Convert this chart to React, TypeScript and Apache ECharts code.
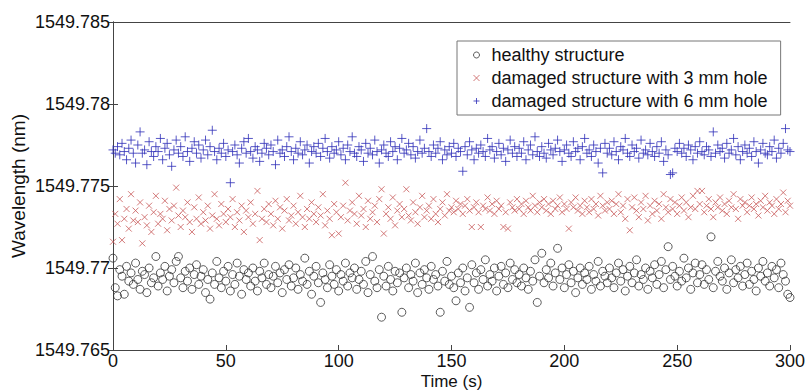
import React, { useEffect, useRef } from "react";
import * as echarts from "echarts";

// Time samples (s), one reading per second from 0 to 300
const timeStart = 0;
const timeStep = 1;

const healthy = [
1549.7706,1549.7688,1549.7683,1549.7699,1549.7695,1549.7684,1549.7701,1549.7692,1549.7697,1549.7690,
1549.7703,1549.7693,1549.7687,1549.7698,1549.7696,1549.7685,1549.7700,1549.7691,1549.7694,1549.7707,
1549.7689,1549.7697,1549.7693,1549.7701,1549.7686,1549.7695,1549.7699,1549.7691,1549.7704,1549.7707,
1549.7694,1549.7688,1549.7698,1549.7692,1549.7700,1549.7687,1549.7696,1549.7702,1549.7690,1549.7695,
1549.7699,1549.7685,1549.7693,1549.7681,1549.7697,1549.7690,1549.7704,1549.7694,1549.7688,1549.7698,
1549.7692,1549.7701,1549.7686,1549.7696,1549.7690,1549.7703,1549.7695,1549.7684,1549.7699,1549.7693,
1549.7697,1549.7689,1549.7700,1549.7692,1549.7686,1549.7698,1549.7694,1549.7703,1549.7690,1549.7696,
1549.7688,1549.7695,1549.7701,1549.7691,1549.7697,1549.7685,1549.7699,1549.7693,1549.7702,1549.7689,
1549.7694,1549.7700,1549.7687,1549.7696,1549.7692,1549.7706,1549.7690,1549.7698,1549.7684,1549.7695,
1549.7701,1549.7691,1549.7679,1549.7697,1549.7693,1549.7688,1549.7702,1549.7695,1549.7690,1549.7699,
1549.7686,1549.7696,1549.7692,1549.7703,1549.7689,1549.7697,1549.7694,1549.7700,1549.7687,1549.7693,
1549.7698,1549.7690,1549.7704,1549.7685,1549.7696,1549.7707,1549.7692,1549.7688,1549.7699,1549.7670,
1549.7695,1549.7689,1549.7701,1549.7693,1549.7686,1549.7698,1549.7691,1549.7697,1549.7673,1549.7694,
1549.7700,1549.7688,1549.7696,1549.7692,1549.7703,1549.7685,1549.7697,1549.7690,1549.7699,1549.7694,
1549.7687,1549.7701,1549.7693,1549.7696,1549.7689,1549.7673,1549.7698,1549.7692,1549.7704,1549.7690,
1549.7695,1549.7688,1549.7680,1549.7697,1549.7691,1549.7700,1549.7686,1549.7694,1549.7676,1549.7702,
1549.7691,1549.7697,1549.7687,1549.7699,1549.7693,1549.7705,1549.7689,1549.7696,1549.7692,1549.7700,
1549.7686,1549.7695,1549.7701,1549.7690,1549.7697,1549.7688,1549.7703,1549.7693,1549.7699,1549.7691,
1549.7696,1549.7689,1549.7700,1549.7694,1549.7687,1549.7698,1549.7692,1549.7705,1549.7679,1549.7695,
1549.7709,1549.7691,1549.7699,1549.7694,1549.7703,1549.7689,1549.7697,1549.7712,1549.7693,1549.7700,
1549.7688,1549.7696,1549.7702,1549.7691,1549.7698,1549.7685,1549.7694,1549.7700,1549.7690,1549.7697,
1549.7693,1549.7701,1549.7687,1549.7696,1549.7692,1549.7704,1549.7689,1549.7698,1549.7695,1549.7691,
1549.7700,1549.7694,1549.7688,1549.7697,1549.7703,1549.7692,1549.7699,1549.7686,1549.7695,1549.7701,
1549.7691,1549.7697,1549.7705,1549.7689,1549.7696,1549.7693,1549.7700,1549.7687,1549.7698,1549.7694,
1549.7702,1549.7690,1549.7696,1549.7704,1549.7688,1549.7699,1549.7713,1549.7693,1549.7701,1549.7695,
1549.7689,1549.7698,1549.7692,1549.7706,1549.7694,1549.7700,1549.7687,1549.7697,1549.7703,1549.7691,
1549.7696,1549.7702,1549.7690,1549.7699,1549.7693,1549.7719,1549.7688,1549.7698,1549.7704,1549.7695,
1549.7692,1549.7700,1549.7687,1549.7697,1549.7705,1549.7691,1549.7699,1549.7694,1549.7701,1549.7689,
1549.7696,1549.7703,1549.7690,1549.7698,1549.7693,1549.7686,1549.7700,1549.7695,1549.7704,1549.7692,
1549.7697,1549.7689,1549.7701,1549.7694,1549.7699,1549.7688,1549.7703,1549.7696,1549.7692,1549.7684,
1549.7682
];

const hole3mm = [
1549.7716,1549.7733,1549.7727,1549.7742,1549.7717,1549.7730,1549.7736,1549.7724,1549.7745,1549.7729,
1549.7735,1549.7728,1549.7740,1549.7715,1549.7731,1549.7726,1549.7738,1549.7722,1549.7734,1549.7744,
1549.7727,1549.7733,1549.7730,1549.7741,1549.7723,1549.7736,1549.7729,1549.7738,1549.7749,1549.7732,
1549.7725,1549.7735,1549.7731,1549.7740,1549.7728,1549.7722,1549.7737,1549.7730,1549.7743,1549.7727,
1549.7734,1549.7729,1549.7738,1549.7724,1549.7732,1549.7745,1549.7730,1549.7726,1549.7739,1549.7733,
1549.7728,1549.7736,1549.7731,1549.7742,1549.7725,1549.7734,1549.7729,1549.7738,1549.7722,1549.7735,
1549.7731,1549.7740,1549.7727,1549.7733,1549.7747,1549.7717,1549.7730,1549.7736,1549.7728,1549.7739,
1549.7733,1549.7726,1549.7741,1549.7730,1549.7737,1549.7724,1549.7735,1549.7742,1549.7729,1549.7732,
1549.7738,1549.7727,1549.7734,1549.7744,1549.7731,1549.7725,1549.7736,1549.7730,1549.7740,1549.7733,
1549.7728,1549.7737,1549.7732,1549.7745,1549.7726,1549.7735,1549.7730,1549.7720,1549.7739,1549.7734,
1549.7721,1549.7731,1549.7738,1549.7752,1549.7729,1549.7735,1549.7740,1549.7733,1549.7727,1549.7744,
1549.7732,1549.7736,1549.7725,1549.7741,1549.7730,1549.7734,1549.7738,1549.7728,1549.7742,1549.7748,
1549.7721,1549.7733,1549.7737,1549.7730,1549.7743,1549.7726,1549.7735,1549.7739,1549.7731,1549.7736,
1549.7748,1549.7732,1549.7729,1549.7740,1549.7734,1549.7727,1549.7737,1549.7744,1549.7731,1549.7735,
1549.7738,1549.7730,1549.7742,1549.7733,1549.7728,1549.7736,1549.7740,1549.7732,1549.7745,1549.7735,
1549.7737,1549.7734,1549.7741,1549.7736,1549.7739,1549.7733,1549.7738,1549.7742,1549.7735,1549.7725,
1549.7737,1549.7740,1549.7734,1549.7725,1549.7738,1549.7736,1549.7743,1549.7735,1549.7739,1549.7733,
1549.7741,1549.7736,1549.7738,1549.7725,1549.7734,1549.7724,1549.7740,1549.7737,1549.7735,1549.7742,
1549.7736,1549.7739,1549.7733,1549.7741,1549.7737,1549.7735,1549.7744,1549.7738,1549.7734,1549.7740,
1549.7737,1549.7742,1549.7735,1549.7739,1549.7733,1549.7741,1549.7736,1549.7738,1549.7743,1549.7734,
1549.7739,1549.7736,1549.7724,1549.7740,1549.7737,1549.7743,1549.7735,1549.7738,1549.7733,1549.7741,
1549.7737,1549.7734,1549.7742,1549.7736,1549.7739,1549.7732,1549.7744,1549.7738,1549.7735,1549.7740,
1549.7736,1549.7741,1549.7733,1549.7739,1549.7745,1549.7734,1549.7738,1549.7730,1549.7742,1549.7723,
1549.7737,1549.7743,1549.7735,1549.7731,1549.7740,1549.7736,1549.7744,1549.7729,1549.7738,1549.7733,
1549.7741,1549.7735,1549.7739,1549.7730,1549.7745,1549.7737,1549.7734,1549.7742,1549.7736,1549.7740,
1549.7733,1549.7738,1549.7743,1549.7735,1549.7740,1549.7731,1549.7737,1549.7744,1549.7736,1549.7747,
1549.7739,1549.7747,1549.7734,1549.7738,1549.7742,1549.7736,1549.7731,1549.7740,1549.7737,1549.7743,
1549.7735,1549.7739,1549.7733,1549.7741,1549.7737,1549.7745,1549.7736,1549.7730,1549.7742,1549.7738,
1549.7740,1549.7734,1549.7738,1549.7743,1549.7736,1549.7739,1549.7732,1549.7741,1549.7737,1549.7744,
1549.7735,1549.7740,1549.7738,1549.7733,1549.7742,1549.7736,1549.7739,1549.7746,1549.7734,1549.7741,
1549.7738
];

const hole6mm = [
1549.7772,1549.7770,1549.7774,1549.7769,1549.7776,1549.7771,1549.7766,1549.7773,1549.7778,1549.7770,
1549.7764,1549.7775,1549.7783,1549.7770,1549.7772,1549.7763,1549.7777,1549.7771,1549.7768,1549.7774,
1549.7771,1549.7779,1549.7766,1549.7773,1549.7776,1549.7769,1549.7762,1549.7772,1549.7778,1549.7770,
1549.7774,1549.7768,1549.7780,1549.7771,1549.7765,1549.7773,1549.7777,1549.7770,1549.7775,1549.7767,
1549.7772,1549.7778,1549.7769,1549.7774,1549.7784,1549.7771,1549.7766,1549.7773,1549.7770,1549.7776,
1549.7768,1549.7772,1549.7752,1549.7771,1549.7775,1549.7769,1549.7764,1549.7773,1549.7777,1549.7770,
1549.7779,1549.7771,1549.7767,1549.7774,1549.7772,1549.7765,1549.7770,1549.7776,1549.7773,1549.7769,
1549.7775,1549.7771,1549.7763,1549.7778,1549.7770,1549.7772,1549.7768,1549.7774,1549.7780,1549.7771,
1549.7766,1549.7773,1549.7770,1549.7777,1549.7769,1549.7772,1549.7775,1549.7764,1549.7771,1549.7774,
1549.7770,1549.7776,1549.7768,1549.7773,1549.7779,1549.7771,1549.7767,1549.7774,1549.7770,1549.7772,
1549.7777,1549.7769,1549.7773,1549.7766,1549.7775,1549.7771,1549.7780,1549.7770,1549.7768,1549.7774,
1549.7772,1549.7765,1549.7776,1549.7770,1549.7773,1549.7769,1549.7778,1549.7771,1549.7764,1549.7772,
1549.7775,1549.7770,1549.7768,1549.7777,1549.7771,1549.7774,1549.7766,1549.7773,1549.7779,1549.7770,
1549.7772,1549.7776,1549.7769,1549.7774,1549.7767,1549.7771,1549.7778,1549.7770,1549.7773,1549.7785,
1549.7771,1549.7768,1549.7775,1549.7770,1549.7773,1549.7777,1549.7766,1549.7772,1549.7769,1549.7774,
1549.7770,1549.7776,1549.7768,1549.7773,1549.7771,1549.7759,1549.7774,1549.7769,1549.7777,1549.7772,
1549.7766,1549.7773,1549.7770,1549.7775,1549.7771,1549.7768,1549.7779,1549.7772,1549.7774,1549.7767,
1549.7771,1549.7776,1549.7769,1549.7773,1549.7765,1549.7772,1549.7778,1549.7770,1549.7774,1549.7768,
1549.7773,1549.7770,1549.7777,1549.7766,1549.7772,1549.7775,1549.7769,1549.7780,1549.7771,1549.7768,
1549.7774,1549.7770,1549.7767,1549.7776,1549.7772,1549.7769,1549.7773,1549.7778,1549.7771,1549.7765,
1549.7772,1549.7775,1549.7770,1549.7768,1549.7777,1549.7771,1549.7773,1549.7766,1549.7774,1549.7779,
1549.7770,1549.7772,1549.7768,1549.7775,1549.7771,1549.7764,1549.7773,1549.7758,1549.7776,1549.7770,
1549.7773,1549.7769,1549.7777,1549.7771,1549.7766,1549.7774,1549.7772,1549.7779,1549.7770,1549.7768,
1549.7775,1549.7771,1549.7773,1549.7767,1549.7778,1549.7770,1549.7772,1549.7769,1549.7776,1549.7771,
1549.7768,1549.7774,1549.7770,1549.7777,1549.7765,1549.7772,1549.7769,1549.7757,1549.7758,1549.7773,
1549.7771,1549.7776,1549.7770,1549.7773,1549.7768,1549.7775,1549.7772,1549.7766,1549.7774,1549.7770,
1549.7777,1549.7771,1549.7769,1549.7774,1549.7772,1549.7768,1549.7783,1549.7770,1549.7775,1549.7771,
1549.7773,1549.7767,1549.7776,1549.7770,1549.7772,1549.7779,1549.7769,1549.7774,1549.7766,1549.7771,
1549.7775,1549.7770,1549.7773,1549.7768,1549.7777,1549.7771,1549.7764,1549.7772,1549.7776,1549.7770,
1549.7769,1549.7774,1549.7771,1549.7778,1549.7767,1549.7773,1549.7770,1549.7776,1549.7785,1549.7772,
1549.7771
];

const seriesNames = [
  "healthy structure",
  "damaged structure with 3 mm hole",
  "damaged structure with 6 mm hole",
];

const xTicks = [0, 50, 100, 150, 200, 250, 300];
const yMin = 1549.765;
const yMax = 1549.785;
const yStep = 0.005;

const FONT = "'Liberation Sans', Arial, Helvetica, sans-serif";
const PLUS = "path://M5,0L5,10M0,5L10,5";
const CROSS = "path://M0,0L10,10M10,0L0,10";
const BLACK = "#333333";
const RED = "#c85a5a";
const BLUE = "#2e2eb8";

function toPairs(vals: number[]) {
  return vals.map((v, i) => [timeStart + i * timeStep, v]);
}

export default function App() {
  const ref = useRef<HTMLDivElement>(null);
  useEffect(() => {
    if (!ref.current) return;
    const chart = echarts.init(ref.current, undefined, { renderer: "svg" });
    const axisLine = { show: true, lineStyle: { color: "#444", width: 1 } };
    const tickIn = { show: true, inside: true, length: 5, lineStyle: { color: "#444" } };
    chart.setOption({
      animation: false,
      backgroundColor: "#fff",
      textStyle: { fontFamily: FONT },
      grid: { left: 113, right: 16, top: 22, bottom: 42, containLabel: false, outerBoundsMode: "none" },
      legend: {
        orient: "vertical",
        left: 457,
        top: 41,
        backgroundColor: "#fff",
        borderColor: "#777",
        borderWidth: 1,
        borderRadius: 0,
        padding: [5, 13, 5, 16],
        itemGap: 5,
        itemWidth: 20,
        itemHeight: 6,
        symbolKeepAspect: true,
        textStyle: { fontSize: 18, color: "#111", fontFamily: FONT },
        data: [
          { name: seriesNames[0], icon: "circle", itemStyle: { color: "transparent", borderColor: BLACK, borderWidth: 1 } },
          { name: seriesNames[1], icon: CROSS, itemStyle: { color: "transparent", borderColor: RED, borderWidth: 1 } },
          { name: seriesNames[2], icon: PLUS, itemStyle: { color: "transparent", borderColor: BLUE, borderWidth: 1 } },
        ],
      },
      xAxis: [
        {
          type: "value",
          min: xTicks[0],
          max: xTicks[xTicks.length - 1],
          interval: xTicks[1] - xTicks[0],
          name: "Time (s)",
          nameLocation: "middle",
          nameGap: 23,
          nameMoveOverlap: false,
          nameTextStyle: { fontSize: 17, color: "#111", fontFamily: FONT },
          axisLine,
          axisTick: tickIn,
          splitLine: { show: false },
          axisLabel: { fontSize: 18, color: "#111", margin: 2, fontFamily: FONT },
        },
        {
          type: "value",
          position: "top",
          min: xTicks[0],
          max: xTicks[xTicks.length - 1],
          interval: xTicks[1] - xTicks[0],
          axisLine,
          axisTick: { show: false },
          axisLabel: { show: false },
          splitLine: { show: false },
        },
      ],
      yAxis: [
        {
          type: "value",
          min: yMin,
          max: yMax,
          interval: yStep,
          name: "Wavelength (nm)",
          nameLocation: "middle",
          nameGap: 85,
          nameMoveOverlap: false,
          nameTextStyle: { fontSize: 19, color: "#111", fontFamily: FONT },
          axisLine,
          axisTick: tickIn,
          splitLine: { show: false },
          axisLabel: {
            fontSize: 18,
            color: "#111",
            margin: 3,
            fontFamily: FONT,
            formatter: (v: number) => String(+v.toFixed(3)),
          },
        },
        {
          type: "value",
          position: "right",
          min: yMin,
          max: yMax,
          interval: yStep,
          axisLine,
          axisTick: tickIn,
          axisLabel: { show: false },
          splitLine: { show: false },
        },
      ],
      series: [
        {
          name: seriesNames[0],
          type: "scatter",
          data: toPairs(healthy),
          symbol: "circle",
          symbolSize: 8,
          itemStyle: { color: "transparent", borderColor: BLACK, borderWidth: 1 },
        },
        {
          name: seriesNames[1],
          type: "scatter",
          data: toPairs(hole3mm),
          symbol: CROSS,
          symbolSize: 6,
          itemStyle: { color: "transparent", borderColor: RED, borderWidth: 1 },
        },
        {
          name: seriesNames[2],
          type: "scatter",
          data: toPairs(hole6mm),
          symbol: PLUS,
          symbolSize: 9,
          itemStyle: { color: "transparent", borderColor: BLUE, borderWidth: 1 },
        },
      ],
    });
    return () => chart.dispose();
  }, []);
  return <div ref={ref} style={{ width: 806, height: 392, position: "absolute", left: 0, top: 0 }} />;
}
